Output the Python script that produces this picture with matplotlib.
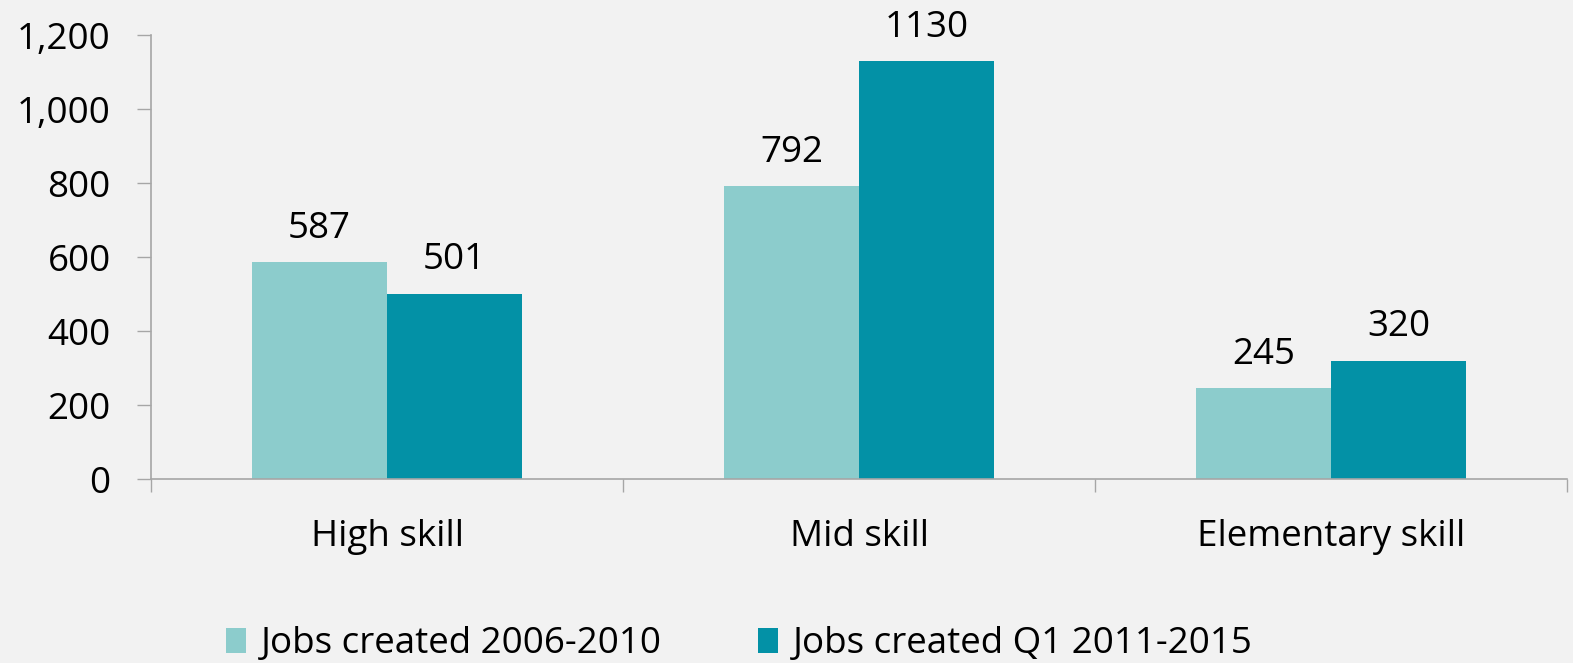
import matplotlib
matplotlib.use("Agg")
import matplotlib.pyplot as plt
import numpy as np
from matplotlib.patches import Patch

categories = ["High skill", "Mid skill", "Elementary skill"]
series_names = ["Jobs created 2006-2010", "Jobs created Q1 2011-2015"]
jobs_2006_2010 = [587, 792, 245]
jobs_2011_2015 = [501, 1130, 320]
y_ticks = [0, 200, 400, 600, 800, 1000, 1200]

light = "#8CCCCC"
dark = "#0391A6"
bg = "#F2F2F2"
axis_grey = "#A6A6A6"

plt.rcParams["font.family"] = ["Open Sans", "DejaVu Sans"]
fs = 26.5

fig = plt.figure(figsize=(15.73, 6.63), dpi=100, facecolor=bg)
ax = fig.add_axes([0.096, 0.2775, 0.9002, 0.6697], facecolor=bg)

x = np.arange(len(categories))
w = 0.286
b1 = ax.bar(x - w / 2, jobs_2006_2010, width=w, color=light, linewidth=0)
b2 = ax.bar(x + w / 2, jobs_2011_2015, width=w, color=dark, linewidth=0)

for bars, vals in ((b1, jobs_2006_2010), (b2, jobs_2011_2015)):
    for rect, v in zip(bars, vals):
        ax.annotate(f"{v}", (rect.get_x() + rect.get_width() / 2, v),
                    xytext=(0, 11), textcoords="offset points",
                    ha="center", va="bottom", fontsize=fs, color="black")

ax.set_xlim(-0.5, len(categories) - 0.5)
ax.set_ylim(0, 1200)
ax.set_yticks(y_ticks)
ax.set_yticklabels([f"{t:,}" for t in y_ticks], fontsize=fs)

ax.set_xticks(x)
ax.set_xticklabels(categories, fontsize=fs)
ax.set_xticks(np.arange(-0.5, len(categories)), minor=True)
ax.tick_params(axis="x", which="major", length=0, pad=29)
ax.tick_params(axis="x", which="minor", length=9.5, width=1, color=axis_grey, direction="out")
ax.tick_params(axis="y", which="major", length=10, width=1, color=axis_grey, direction="out", pad=19)

for s in ("top", "right"):
    ax.spines[s].set_visible(False)
for s in ("left", "bottom"):
    ax.spines[s].set_color(axis_grey)
    ax.spines[s].set_linewidth(1.2)

handles = [Patch(facecolor=light, edgecolor="none"), Patch(facecolor=dark, edgecolor="none")]
fig.legend(handles, series_names, loc="center", bbox_to_anchor=(0.47, 0.028),
           ncol=2, frameon=False, fontsize=fs, handlelength=0.55, handleheight=0.7,
           handletextpad=0.4, columnspacing=2.6)

fig.savefig("out.png", dpi=100, facecolor=bg)
